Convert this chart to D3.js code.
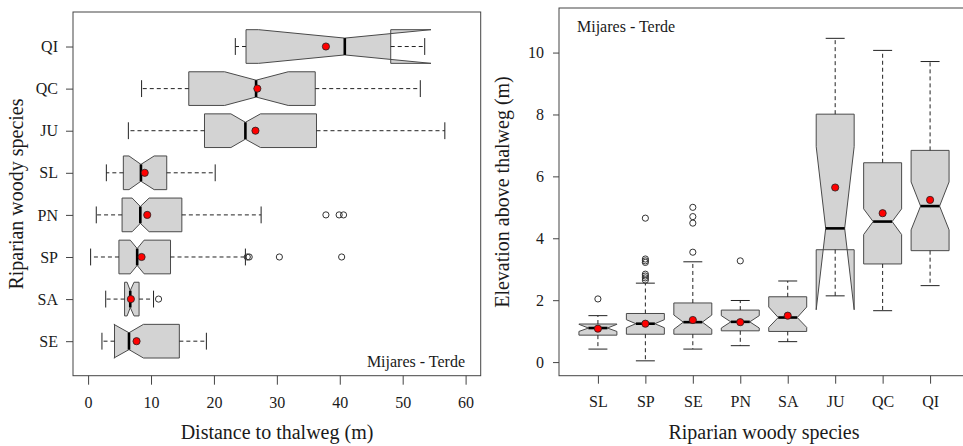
<!DOCTYPE html>
<html>
<head>
<meta charset="utf-8">
<script src="https://cdn.jsdelivr.net/npm/d3@7"></script>
<style>
  body { margin: 0; background: #fff; }
  svg text { font-family: "Liberation Serif", "Times New Roman", serif; fill: #1a1a1a; }
</style>
</head>
<body>
<script>
// ---- left panel: distance to thalweg (m), species listed bottom to top
const distSpecies = ["SE", "SA", "SP", "PN", "SL", "JU", "QC", "QI"];
const distLow     = [2.2, 2.8, 0.4, 1.3, 2.9, 6.4, 8.5, 23.4];
const distQ1      = [4.2, 5.8, 4.9, 5.4, 5.6, 18.5, 16.0, 25.1];
const distMed     = [6.5, 6.7, 7.8, 8.3, 8.4, 25.0, 26.7, 40.8];
const distQ3      = [14.5, 8.1, 13.1, 14.9, 12.5, 36.3, 36.1, 48.1];
const distHigh    = [18.8, 10.4, 25.0, 27.5, 20.2, 56.7, 52.8, 53.5];
const distNotchLo = [4.1, 6.2, 6.7, 7.0, 6.5, 22.7, 21.7, 27.1];
const distNotchHi = [8.8, 7.3, 8.9, 9.7, 10.5, 27.4, 31.8, 54.5];
const distMean    = [7.7, 6.8, 8.5, 9.4, 9.0, 26.6, 26.9, 37.8];
const distOut     = [[], [11.2], [25.3, 25.6, 30.4, 40.3], [37.8, 39.9, 40.6], [], [], [], []];
const distTicks   = [0, 10, 20, 30, 40, 50, 60];

// ---- right panel: elevation above thalweg (m), species left to right
const elevSpecies = ["SL", "SP", "SE", "PN", "SA", "JU", "QC", "QI"];
const elevLow     = [0.42, 0.04, 0.42, 0.53, 0.66, 2.14, 1.66, 2.47];
const elevQ1      = [0.87, 0.90, 0.90, 1.01, 0.99, 3.63, 3.17, 3.60];
const elevMed     = [1.10, 1.24, 1.29, 1.30, 1.44, 4.32, 4.54, 5.04];
const elevQ3      = [1.23, 1.57, 1.91, 1.68, 2.11, 8.01, 6.44, 6.84];
const elevHigh    = [1.50, 2.55, 3.24, 1.99, 2.62, 10.46, 10.07, 9.71];
const elevNotchLo = [0.99, 1.11, 1.06, 1.10, 1.12, 1.69, 4.12, 4.27];
const elevNotchHi = [1.22, 1.37, 1.52, 1.50, 1.78, 6.96, 4.95, 5.82];
const elevMean    = [1.08, 1.24, 1.36, 1.29, 1.50, 5.64, 4.81, 5.24];
const elevOut     = [[2.04], [4.65, 3.33, 3.27, 3.22, 2.84, 2.78, 2.72, 2.65], [5.0, 4.70, 4.49, 3.55], [3.27], [], [], [], []];
const elevTicks   = [0, 2, 4, 6, 8, 10];

const svg = d3.select("body").append("svg")
  .attr("width", 963)
  .attr("height", 446);

const frameColor = "#444";
const boxFill = "#d3d3d3";

// draws R style notched boxplots, horizontal or vertical
function drawBoxes(g, cfg) {
  const { pos, val, horizontal, low, q1, med, q3, high, nlo, nhi, mean, out } = cfg;
  const half = Math.abs(pos(1.4) - pos(1));     // boxwex 0.8
  const P = (i, off, v) => horizontal ? [val(v), pos(i + 1) + off * half] : [pos(i + 1) + off * half, val(v)];

  low.forEach((_, i) => {
    const pts = [[-1, q1[i]], [1, q1[i]], [1, nlo[i]], [0.5, med[i]], [1, nhi[i]], [1, q3[i]],
                 [-1, q3[i]], [-1, nhi[i]], [-0.5, med[i]], [-1, nlo[i]]].map(d => P(i, d[0], d[1]));
    g.append("path")
      .attr("d", d3.line()(pts) + "Z")
      .attr("fill", boxFill)
      .attr("fill-rule", "evenodd")
      .attr("stroke", "#4a4a4a")
      .attr("stroke-width", 1);

    // whiskers + staples
    [[q1[i], low[i]], [q3[i], high[i]]].forEach(w => {
      const a = P(i, 0, w[0]), b = P(i, 0, w[1]);
      g.append("line").attr("x1", a[0]).attr("y1", a[1]).attr("x2", b[0]).attr("y2", b[1])
        .attr("stroke", "#222").attr("stroke-dasharray", "4,3");
      const s1 = P(i, -0.5, w[1]), s2 = P(i, 0.5, w[1]);
      g.append("line").attr("x1", s1[0]).attr("y1", s1[1]).attr("x2", s2[0]).attr("y2", s2[1])
        .attr("stroke", "#222");
    });

    // median
    const m1 = P(i, -0.5, med[i]), m2 = P(i, 0.5, med[i]);
    g.append("line").attr("x1", m1[0]).attr("y1", m1[1]).attr("x2", m2[0]).attr("y2", m2[1])
      .attr("stroke", "#000").attr("stroke-width", 2.6);

    // outliers
    g.selectAll(null).data(out[i]).join("circle")
      .attr("cx", d => P(i, 0, d)[0])
      .attr("cy", d => P(i, 0, d)[1])
      .attr("r", 3.1)
      .attr("fill", "none")
      .attr("stroke", "#333");
  });

  // means
  g.selectAll(null).data(mean).join("circle")
    .attr("cx", (d, i) => P(i, 0, d)[0])
    .attr("cy", (d, i) => P(i, 0, d)[1])
    .attr("r", 3.6)
    .attr("fill", "#ff0000")
    .attr("stroke", "#222")
    .attr("stroke-width", 0.8);
}

function styleAxis(ax) {
  ax.select(".domain").remove();
  ax.attr("font-family", "Liberation Serif").attr("font-size", 16);
  ax.selectAll("line").attr("stroke", frameColor);
  ax.selectAll("text").style("fill", "#1a1a1a");
}

// ---------- left panel
const xL = d3.scaleLinear().domain([-2.4, 62.4]).range([73, 480.7]);
const yL = d3.scaleLinear().domain([0.18, 8.82]).range([375.7, 12]);
const gL = svg.append("g");

drawBoxes(gL, {
  pos: yL, val: xL, horizontal: true,
  low: distLow, q1: distQ1, med: distMed, q3: distQ3, high: distHigh,
  nlo: distNotchLo, nhi: distNotchHi, mean: distMean, out: distOut
});

gL.append("rect")
  .attr("x", 73).attr("y", 12).attr("width", 480.7 - 73).attr("height", 375.7 - 12)
  .attr("fill", "none").attr("stroke", frameColor);

gL.append("g")
  .attr("transform", "translate(0,375.7)")
  .call(d3.axisBottom(xL).tickValues(distTicks).tickSize(9).tickPadding(12).tickSizeOuter(0))
  .call(styleAxis);

gL.append("g")
  .attr("transform", "translate(73,0)")
  .call(d3.axisLeft(yL).tickValues(d3.range(1, 9)).tickFormat(i => distSpecies[i - 1])
    .tickSize(7).tickPadding(8).tickSizeOuter(0))
  .call(styleAxis);

gL.append("text")
  .attr("x", 277).attr("y", 439)
  .attr("text-anchor", "middle").attr("font-size", 20)
  .text("Distance to thalweg (m)");

gL.append("text")
  .attr("transform", "translate(23,194) rotate(-90)")
  .attr("text-anchor", "middle").attr("font-size", 20)
  .text("Riparian woody species");

gL.append("text")
  .attr("x", 465).attr("y", 367)
  .attr("text-anchor", "end").attr("font-size", 16)
  .text("Mijares - Terde");

// ---------- right panel
const xR = d3.scaleLinear().domain([0.18, 8.82]).range([559, 969]);
const yR = d3.scaleLinear().domain([-0.44, 11.44]).range([375.7, 8]);
const gR = svg.append("g");

drawBoxes(gR, {
  pos: xR, val: yR, horizontal: false,
  low: elevLow, q1: elevQ1, med: elevMed, q3: elevQ3, high: elevHigh,
  nlo: elevNotchLo, nhi: elevNotchHi, mean: elevMean, out: elevOut
});

gR.append("rect")
  .attr("x", 559).attr("y", 8).attr("width", 969 - 559).attr("height", 375.7 - 8)
  .attr("fill", "none").attr("stroke", frameColor);

gR.append("g")
  .attr("transform", "translate(0,375.7)")
  .call(d3.axisBottom(xR).tickValues(d3.range(1, 9)).tickFormat(i => elevSpecies[i - 1])
    .tickSize(8).tickPadding(12).tickSizeOuter(0))
  .call(styleAxis);

gR.append("g")
  .attr("transform", "translate(559,0)")
  .call(d3.axisLeft(yR).tickValues(elevTicks).tickSize(6).tickPadding(9).tickSizeOuter(0))
  .call(styleAxis);

gR.append("text")
  .attr("x", 764).attr("y", 439)
  .attr("text-anchor", "middle").attr("font-size", 20)
  .text("Riparian woody species");

gR.append("text")
  .attr("transform", "translate(509,192) rotate(-90)")
  .attr("text-anchor", "middle").attr("font-size", 20)
  .text("Elevation above thalweg (m)");

gR.append("text")
  .attr("x", 577).attr("y", 32)
  .attr("font-size", 16)
  .text("Mijares - Terde");
</script>
</body>
</html>
